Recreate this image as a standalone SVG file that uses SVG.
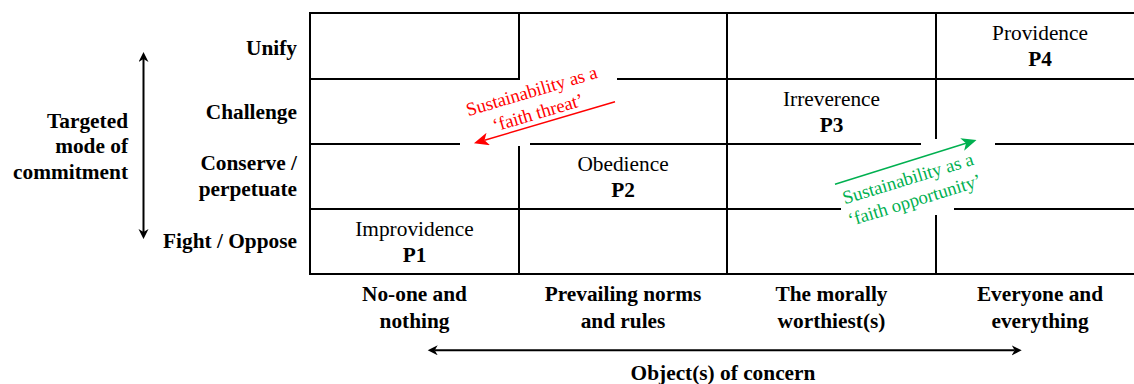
<svg xmlns="http://www.w3.org/2000/svg" width="1134" height="384" viewBox="0 0 1134 384">
<style>
text{font-family:'Liberation Serif','Tinos','Times New Roman','DejaVu Serif',serif;font-size:21.33px;fill:#000}
.b{font-weight:bold}
.m{text-anchor:middle}
.r{text-anchor:end}
.grid line{stroke:#000;stroke-width:2;stroke-linecap:square}
.ax{stroke:#000;stroke-width:2;fill:none}
.lbl{font-size:18.67px;text-anchor:middle}
.red{fill:#FF0000}
.grn{fill:#00B050}
</style>
<defs>
<marker id="hk" markerUnits="userSpaceOnUse" markerWidth="11" markerHeight="11" refX="3" refY="5" orient="auto-start-reverse" viewBox="0 0 11 11"><path d="M0,0 L10,5 L0,10 L3,5 z" fill="#000"/></marker>
<marker id="hr" markerUnits="userSpaceOnUse" markerWidth="16" markerHeight="14" refX="4" refY="6.5" orient="auto" viewBox="0 0 16 14"><path d="M0,0 L15,6.5 L0,13 L4,6.5 z" fill="#FF0000"/></marker>
<marker id="hg" markerUnits="userSpaceOnUse" markerWidth="16" markerHeight="14" refX="4" refY="6.5" orient="auto" viewBox="0 0 16 14"><path d="M0,0 L15,6.5 L0,13 L4,6.5 z" fill="#00B050"/></marker>
</defs>
<rect width="1134" height="384" fill="#fff"/>

<g id="grid" class="grid">
<line x1="310" y1="13" x2="1140" y2="13"/>
<line x1="310" y1="79" x2="518" y2="79"/>
<line x1="618" y1="79" x2="1140" y2="79"/>
<line x1="310" y1="144" x2="459" y2="144"/>
<line x1="531" y1="144" x2="920" y2="144"/>
<line x1="996" y1="144" x2="1140" y2="144"/>
<line x1="310" y1="209" x2="840" y2="209"/>
<line x1="955" y1="209" x2="1140" y2="209"/>
<line x1="310" y1="274" x2="1140" y2="274"/>
<line x1="310" y1="13" x2="310" y2="274"/>
<line x1="519" y1="13" x2="519" y2="79"/>
<line x1="519" y1="147" x2="519" y2="274"/>
<line x1="727" y1="13" x2="727" y2="274"/>
<line x1="936" y1="13" x2="936" y2="138"/>
<line x1="936" y1="216" x2="936" y2="274"/>
</g>

<g font-family="'Liberation Serif', serif">
<g id="cell-p1"><text class="m" x="414.5" y="236">Improvidence</text><text class="m b" x="414.5" y="262">P1</text></g>
<g id="cell-p2"><text class="m" x="623" y="171">Obedience</text><text class="m b" x="623" y="197">P2</text></g>
<g id="cell-p3"><text class="m" x="831.5" y="105.5">Irreverence</text><text class="m b" x="831.5" y="131.5">P3</text></g>
<g id="cell-p4"><text class="m" x="1040" y="40">Providence</text><text class="m b" x="1040" y="66">P4</text></g>

<g id="row-unify"><text class="r b" x="297" y="55">Unify</text></g>
<g id="row-challenge"><text class="r b" x="297" y="118.5">Challenge</text></g>
<g id="row-conserve"><text class="r b" x="297" y="170">Conserve /</text><text class="r b" x="297" y="196">perpetuate</text></g>
<g id="row-fight"><text class="r b" x="297" y="248">Fight / Oppose</text></g>

<g id="col-noone"><text class="m b" x="414.5" y="301">No-one and</text><text class="m b" x="414.5" y="327.5">nothing</text></g>
<g id="col-norms"><text class="m b" x="623" y="301">Prevailing norms</text><text class="m b" x="623" y="327.5">and rules</text></g>
<g id="col-moral"><text class="m b" x="831.5" y="301">The morally</text><text class="m b" x="831.5" y="327.5">worthiest(s)</text></g>
<g id="col-everyone"><text class="m b" x="1040" y="301">Everyone and</text><text class="m b" x="1040" y="327.5">everything</text></g>

<g id="axis-y-label"><text class="r b" x="128" y="127.5">Targeted</text><text class="r b" x="128" y="153">mode of</text><text class="r b" x="128" y="179">commitment</text></g>
<g id="axis-x-label"><text class="m b" x="723" y="380">Object(s) of concern</text></g>

<g id="label-threat" transform="translate(536.5,107.5) rotate(-16.5)">
<text class="lbl red" x="0" y="-11">Sustainability as a</text>
<text class="lbl red" x="0" y="11.5">‘faith threat’</text>
</g>
<g id="label-opportunity" transform="translate(913,195) rotate(-17)">
<text class="lbl grn" x="0" y="-11">Sustainability as a</text>
<text class="lbl grn" x="0" y="11.5">‘faith opportunity’</text>
</g>
</g>

<g id="connectors">
<line class="ax" x1="143.5" y1="59" x2="143.5" y2="232" marker-start="url(#hk)" marker-end="url(#hk)"/>
<line class="ax" x1="434.7" y1="350.3" x2="1014.7" y2="350.3" marker-start="url(#hk)" marker-end="url(#hk)"/>
<line x1="615" y1="101.7" x2="484.5" y2="140.2" stroke="#FF0000" stroke-width="1.5" marker-end="url(#hr)"/>
<line x1="835" y1="184.3" x2="966" y2="143.3" stroke="#00B050" stroke-width="1.5" marker-end="url(#hg)"/>
</g>
</svg>
